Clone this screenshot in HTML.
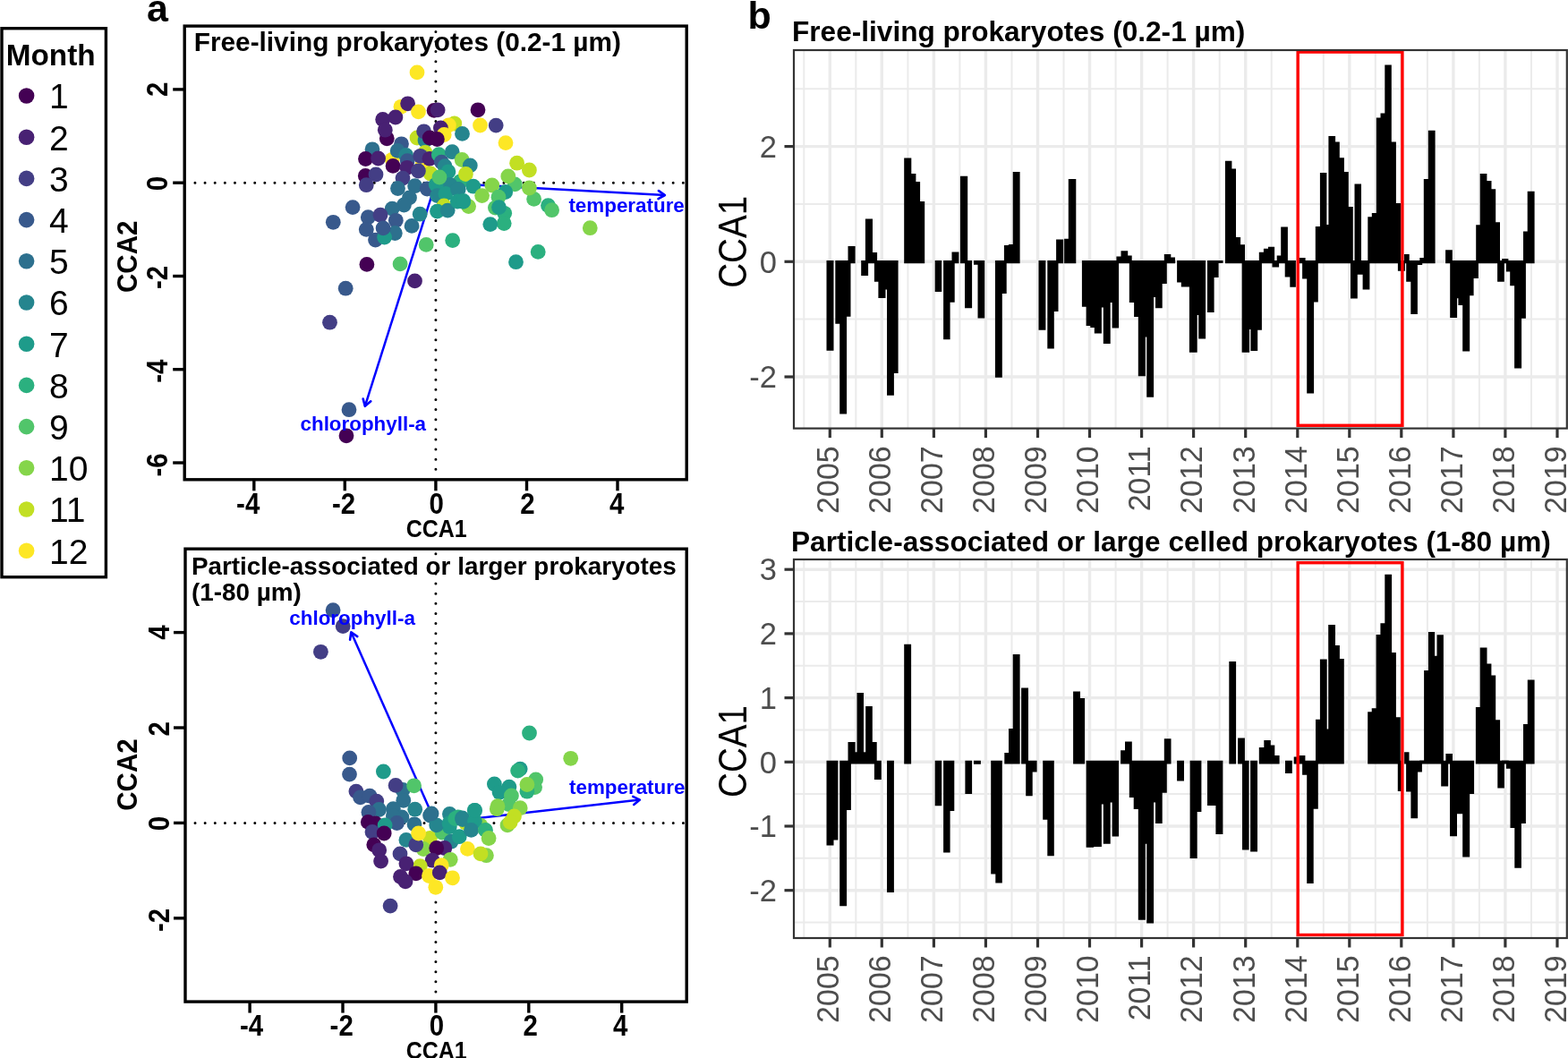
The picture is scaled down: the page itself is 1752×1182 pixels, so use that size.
<!DOCTYPE html>
<html><head><meta charset="utf-8"><title>CCA figure</title>
<style>
html,body{margin:0;padding:0;background:#fff;}
body{width:1752px;height:1182px;overflow:hidden;}
svg{display:block;font-family:'Liberation Sans', Arial, Helvetica, sans-serif;}
.b{font-weight:bold;}
</style></head><body>
<svg width="1752" height="1182" viewBox="0 0 1752 1182">
<rect x="0" y="0" width="1752" height="1182" fill="#fff"/>
<rect x="2.0" y="31.7" width="116.4" height="613.0" fill="none" stroke="#000" stroke-width="3.4"/>
<text x="6.8" y="73.4" class="b" font-size="33.3">Month</text>
<circle cx="29.6" cy="107.0" r="8.8" fill="#440154"/>
<text x="55" y="121.3" font-size="39">1</text>
<circle cx="29.6" cy="153.2" r="8.8" fill="#482173"/>
<text x="55" y="167.5" font-size="39">2</text>
<circle cx="29.6" cy="199.4" r="8.8" fill="#433E85"/>
<text x="55" y="213.7" font-size="39">3</text>
<circle cx="29.6" cy="245.6" r="8.8" fill="#38598C"/>
<text x="55" y="259.9" font-size="39">4</text>
<circle cx="29.6" cy="291.8" r="8.8" fill="#2D708E"/>
<text x="55" y="306.1" font-size="39">5</text>
<circle cx="29.6" cy="338.0" r="8.8" fill="#25858E"/>
<text x="55" y="352.3" font-size="39">6</text>
<circle cx="29.6" cy="384.2" r="8.8" fill="#1E9B8A"/>
<text x="55" y="398.5" font-size="39">7</text>
<circle cx="29.6" cy="430.4" r="8.8" fill="#2BB07F"/>
<text x="55" y="444.7" font-size="39">8</text>
<circle cx="29.6" cy="476.6" r="8.8" fill="#51C56A"/>
<text x="55" y="490.9" font-size="39">9</text>
<circle cx="29.6" cy="522.8" r="8.8" fill="#85D54A"/>
<text x="55" y="537.1" font-size="39">10</text>
<circle cx="29.6" cy="569.0" r="8.8" fill="#C2DF23"/>
<text x="55" y="583.3" font-size="39">11</text>
<circle cx="29.6" cy="615.2" r="8.8" fill="#FDE725"/>
<text x="55" y="629.5" font-size="39">12</text>
<text x="164" y="24" class="b" font-size="43">a</text>
<text x="835.5" y="32" class="b" font-size="43">b</text>
<line x1="217.93" y1="204.2" x2="765.2" y2="204.2" stroke="#000" stroke-width="3" stroke-dasharray="0 11.13" stroke-linecap="round"/>
<line x1="486.9" y1="35.40" x2="486.9" y2="533.8" stroke="#000" stroke-width="3" stroke-dasharray="0 11.11" stroke-linecap="round"/>
<line x1="486.9" y1="204.2" x2="742.9" y2="218.0" stroke="#0000FF" stroke-width="2.5"/>
<polyline points="735.5,222.1 742.9,218.0 735.9,213.1" fill="none" stroke="#0000FF" stroke-width="2.6" stroke-linejoin="round" stroke-linecap="round"/>
<line x1="486.9" y1="204.2" x2="407.8" y2="453.8" stroke="#0000FF" stroke-width="2.5"/>
<polyline points="405.7,445.6 407.8,453.8 414.3,448.3" fill="none" stroke="#0000FF" stroke-width="2.6" stroke-linejoin="round" stroke-linecap="round"/>
<circle cx="466.0" cy="80.9" r="8.4" fill="#FDE725"/>
<circle cx="448.0" cy="119.3" r="8.4" fill="#FDE725"/>
<circle cx="455.6" cy="115.8" r="8.4" fill="#482173"/>
<circle cx="467.5" cy="124.9" r="8.4" fill="#FDE725"/>
<circle cx="485.1" cy="123.4" r="8.4" fill="#440154"/>
<circle cx="489.1" cy="122.9" r="8.4" fill="#482173"/>
<circle cx="534.0" cy="122.8" r="8.4" fill="#440154"/>
<circle cx="554.2" cy="140.1" r="8.4" fill="#433E85"/>
<circle cx="565.0" cy="159.6" r="8.4" fill="#FDE725"/>
<circle cx="427.7" cy="133.5" r="8.4" fill="#482173"/>
<circle cx="441.9" cy="131.0" r="8.4" fill="#482173"/>
<circle cx="432.3" cy="154.8" r="8.4" fill="#440154"/>
<circle cx="430.3" cy="145.2" r="8.4" fill="#482173"/>
<circle cx="536.5" cy="140.0" r="8.4" fill="#FDE725"/>
<circle cx="507.8" cy="138.0" r="8.4" fill="#C2DF23"/>
<circle cx="501.4" cy="139.8" r="8.4" fill="#FDE725"/>
<circle cx="492.4" cy="143.0" r="8.4" fill="#482173"/>
<circle cx="496.2" cy="150.5" r="8.4" fill="#FDE725"/>
<circle cx="516.5" cy="149.4" r="8.4" fill="#25858E"/>
<circle cx="466.0" cy="154.0" r="8.4" fill="#C2DF23"/>
<circle cx="475.0" cy="157.0" r="8.4" fill="#25858E"/>
<circle cx="473.6" cy="146.8" r="8.4" fill="#433E85"/>
<circle cx="480.2" cy="154.0" r="8.4" fill="#440154"/>
<circle cx="488.4" cy="155.5" r="8.4" fill="#440154"/>
<circle cx="438.2" cy="178.3" r="8.4" fill="#FDE725"/>
<circle cx="448.5" cy="160.8" r="8.4" fill="#38598C"/>
<circle cx="416.0" cy="166.8" r="8.4" fill="#2D708E"/>
<circle cx="444.2" cy="168.4" r="8.4" fill="#2D708E"/>
<circle cx="453.7" cy="173.5" r="8.4" fill="#25858E"/>
<circle cx="408.5" cy="177.5" r="8.4" fill="#440154"/>
<circle cx="422.6" cy="177.0" r="8.4" fill="#482173"/>
<circle cx="439.1" cy="185.4" r="8.4" fill="#440154"/>
<circle cx="455.2" cy="179.6" r="8.4" fill="#38598C"/>
<circle cx="454.9" cy="187.3" r="8.4" fill="#482173"/>
<circle cx="472.0" cy="184.2" r="8.4" fill="#FDE725"/>
<circle cx="475.0" cy="170.5" r="8.4" fill="#C2DF23"/>
<circle cx="469.7" cy="174.3" r="8.4" fill="#433E85"/>
<circle cx="480.0" cy="177.3" r="8.4" fill="#482173"/>
<circle cx="490.3" cy="172.7" r="8.4" fill="#2BB07F"/>
<circle cx="505.2" cy="169.7" r="8.4" fill="#25858E"/>
<circle cx="493.3" cy="181.1" r="8.4" fill="#38598C"/>
<circle cx="497.1" cy="185.7" r="8.4" fill="#25858E"/>
<circle cx="500.9" cy="191.8" r="8.4" fill="#1E9B8A"/>
<circle cx="481.0" cy="194.0" r="8.4" fill="#C2DF23"/>
<circle cx="467.4" cy="191.0" r="8.4" fill="#433E85"/>
<circle cx="514.3" cy="202.8" r="8.4" fill="#2BB07F"/>
<circle cx="494.5" cy="208.5" r="8.4" fill="#1E9B8A"/>
<circle cx="502.9" cy="206.5" r="8.4" fill="#25858E"/>
<circle cx="516.2" cy="178.5" r="8.4" fill="#85D54A"/>
<circle cx="525.3" cy="184.9" r="8.4" fill="#25858E"/>
<circle cx="520.4" cy="194.5" r="8.4" fill="#C2DF23"/>
<circle cx="577.6" cy="182.2" r="8.4" fill="#C2DF23"/>
<circle cx="591.4" cy="190.0" r="8.4" fill="#C2DF23"/>
<circle cx="575.3" cy="205.9" r="8.4" fill="#51C56A"/>
<circle cx="567.8" cy="196.9" r="8.4" fill="#85D54A"/>
<circle cx="549.8" cy="207.0" r="8.4" fill="#85D54A"/>
<circle cx="528.8" cy="208.2" r="8.4" fill="#1E9B8A"/>
<circle cx="512.2" cy="211.4" r="8.4" fill="#25858E"/>
<circle cx="596.6" cy="222.4" r="8.4" fill="#51C56A"/>
<circle cx="591.4" cy="210.0" r="8.4" fill="#85D54A"/>
<circle cx="564.7" cy="214.5" r="8.4" fill="#1E9B8A"/>
<circle cx="538.6" cy="218.6" r="8.4" fill="#85D54A"/>
<circle cx="557.0" cy="220.2" r="8.4" fill="#51C56A"/>
<circle cx="523.6" cy="230.6" r="8.4" fill="#85D54A"/>
<circle cx="517.5" cy="225.4" r="8.4" fill="#1E9B8A"/>
<circle cx="553.4" cy="232.1" r="8.4" fill="#51C56A"/>
<circle cx="563.7" cy="238.3" r="8.4" fill="#2BB07F"/>
<circle cx="563.2" cy="249.6" r="8.4" fill="#2BB07F"/>
<circle cx="557.5" cy="231.6" r="8.4" fill="#1E9B8A"/>
<circle cx="547.8" cy="250.6" r="8.4" fill="#1E9B8A"/>
<circle cx="612.5" cy="229.6" r="8.4" fill="#2BB07F"/>
<circle cx="616.6" cy="234.7" r="8.4" fill="#51C56A"/>
<circle cx="659.3" cy="254.7" r="8.4" fill="#85D54A"/>
<circle cx="505.7" cy="268.6" r="8.4" fill="#2BB07F"/>
<circle cx="601.2" cy="281.4" r="8.4" fill="#2BB07F"/>
<circle cx="576.5" cy="292.7" r="8.4" fill="#1E9B8A"/>
<circle cx="408.3" cy="196.5" r="8.4" fill="#440154"/>
<circle cx="420.0" cy="195.0" r="8.4" fill="#433E85"/>
<circle cx="409.3" cy="206.7" r="8.4" fill="#433E85"/>
<circle cx="450.0" cy="199.1" r="8.4" fill="#433E85"/>
<circle cx="444.5" cy="210.5" r="8.4" fill="#2D708E"/>
<circle cx="463.6" cy="207.7" r="8.4" fill="#2D708E"/>
<circle cx="477.3" cy="211.0" r="8.4" fill="#38598C"/>
<circle cx="487.2" cy="206.3" r="8.4" fill="#1E9B8A"/>
<circle cx="488.6" cy="218.6" r="8.4" fill="#25858E"/>
<circle cx="497.9" cy="216.5" r="8.4" fill="#1E9B8A"/>
<circle cx="511.5" cy="211.5" r="8.4" fill="#25858E"/>
<circle cx="457.5" cy="220.9" r="8.4" fill="#2D708E"/>
<circle cx="451.4" cy="229.0" r="8.4" fill="#2D708E"/>
<circle cx="438.2" cy="233.1" r="8.4" fill="#2D708E"/>
<circle cx="394.1" cy="231.6" r="8.4" fill="#38598C"/>
<circle cx="372.3" cy="248.3" r="8.4" fill="#38598C"/>
<circle cx="411.3" cy="242.7" r="8.4" fill="#38598C"/>
<circle cx="425.0" cy="240.2" r="8.4" fill="#433E85"/>
<circle cx="442.3" cy="246.3" r="8.4" fill="#38598C"/>
<circle cx="409.3" cy="256.4" r="8.4" fill="#38598C"/>
<circle cx="419.5" cy="268.1" r="8.4" fill="#38598C"/>
<circle cx="441.3" cy="260.5" r="8.4" fill="#2D708E"/>
<circle cx="429.6" cy="265.1" r="8.4" fill="#1E9B8A"/>
<circle cx="428.1" cy="254.9" r="8.4" fill="#38598C"/>
<circle cx="460.1" cy="252.4" r="8.4" fill="#2D708E"/>
<circle cx="469.2" cy="239.2" r="8.4" fill="#25858E"/>
<circle cx="496.1" cy="230.0" r="8.4" fill="#C2DF23"/>
<circle cx="488.5" cy="236.1" r="8.4" fill="#1E9B8A"/>
<circle cx="500.2" cy="235.1" r="8.4" fill="#25858E"/>
<circle cx="511.3" cy="225.0" r="8.4" fill="#1E9B8A"/>
<circle cx="517.7" cy="224.5" r="8.4" fill="#1E9B8A"/>
<circle cx="491.0" cy="198.0" r="8.4" fill="#51C56A"/>
<circle cx="476.2" cy="273.4" r="8.4" fill="#51C56A"/>
<circle cx="409.9" cy="295.4" r="8.4" fill="#440154"/>
<circle cx="447.1" cy="294.9" r="8.4" fill="#51C56A"/>
<circle cx="463.5" cy="313.9" r="8.4" fill="#482173"/>
<circle cx="386.2" cy="322.2" r="8.4" fill="#38598C"/>
<circle cx="368.5" cy="360.2" r="8.4" fill="#433E85"/>
<circle cx="390.0" cy="457.7" r="8.4" fill="#38598C"/>
<circle cx="387.0" cy="486.8" r="8.4" fill="#440154"/>
<text x="635.4" y="237.4" class="b" font-size="22.4" fill="#0000FF">temperature</text>
<text x="335.5" y="480.5" class="b" font-size="22.4" fill="#0000FF">chlorophyll-a</text>
<rect x="206.2" y="29.1" width="561.0" height="506.69999999999993" fill="none" stroke="#000" stroke-width="3.4"/>
<line x1="193.2" y1="99.9" x2="206.2" y2="99.9" stroke="#000" stroke-width="3.4"/>
<line x1="193.2" y1="204.2" x2="206.2" y2="204.2" stroke="#000" stroke-width="3.4"/>
<line x1="193.2" y1="308.5" x2="206.2" y2="308.5" stroke="#000" stroke-width="3.4"/>
<line x1="193.2" y1="412.7" x2="206.2" y2="412.7" stroke="#000" stroke-width="3.4"/>
<line x1="193.2" y1="517.0" x2="206.2" y2="517.0" stroke="#000" stroke-width="3.4"/>
<text transform="translate(187.2,99.8) rotate(-90) scale(0.9,1)" text-anchor="middle" class="b" font-size="32.7">2</text>
<text transform="translate(187.2,205.2) rotate(-90) scale(0.9,1)" text-anchor="middle" class="b" font-size="32.7">0</text>
<text transform="translate(187.2,310.0) rotate(-90) scale(0.9,1)" text-anchor="middle" class="b" font-size="32.7">-2</text>
<text transform="translate(187.2,414.6) rotate(-90) scale(0.9,1)" text-anchor="middle" class="b" font-size="32.7">-4</text>
<text transform="translate(187.2,519.5) rotate(-90) scale(0.9,1)" text-anchor="middle" class="b" font-size="32.7">-6</text>
<line x1="283.8" y1="535.8" x2="283.8" y2="548.3" stroke="#000" stroke-width="3.4"/>
<line x1="385.3" y1="535.8" x2="385.3" y2="548.3" stroke="#000" stroke-width="3.4"/>
<line x1="486.9" y1="535.8" x2="486.9" y2="548.3" stroke="#000" stroke-width="3.4"/>
<line x1="588.5" y1="535.8" x2="588.5" y2="548.3" stroke="#000" stroke-width="3.4"/>
<line x1="690.0" y1="535.8" x2="690.0" y2="548.3" stroke="#000" stroke-width="3.4"/>
<text transform="translate(277.2,573.9) scale(0.9,1)" text-anchor="middle" class="b" font-size="32.7">-4</text>
<text transform="translate(384.0,573.9) scale(0.9,1)" text-anchor="middle" class="b" font-size="32.7">-2</text>
<text transform="translate(487.7,573.9) scale(0.9,1)" text-anchor="middle" class="b" font-size="32.7">0</text>
<text transform="translate(589.5,573.9) scale(0.9,1)" text-anchor="middle" class="b" font-size="32.7">2</text>
<text transform="translate(689.1,573.9) scale(0.9,1)" text-anchor="middle" class="b" font-size="32.7">4</text>
<text transform="translate(487.7,599.7) scale(0.9,1)" text-anchor="middle" class="b" font-size="27.8">CCA1</text>
<text transform="translate(153.1,286.8) rotate(-90) scale(0.955,1)" text-anchor="middle" class="b" font-size="31">CCA2</text>
<text x="216.8" y="57.2" class="b" font-size="29.77">Free-living prokaryotes (0.2-1 µm)</text>
<line x1="218.03" y1="919.4" x2="765.2" y2="919.4" stroke="#000" stroke-width="3" stroke-dasharray="0 11.13" stroke-linecap="round"/>
<line x1="486.9" y1="618.70" x2="486.9" y2="1117.1" stroke="#000" stroke-width="3" stroke-dasharray="0 11.12" stroke-linecap="round"/>
<line x1="486.9" y1="919.4" x2="714.9" y2="893.6" stroke="#0000FF" stroke-width="2.5"/>
<polyline points="708.2,898.9 714.9,893.6 707.2,889.9" fill="none" stroke="#0000FF" stroke-width="2.6" stroke-linejoin="round" stroke-linecap="round"/>
<line x1="486.9" y1="919.4" x2="392.3" y2="706.3" stroke="#0000FF" stroke-width="2.5"/>
<polyline points="399.3,711.1 392.3,706.3 391.1,714.7" fill="none" stroke="#0000FF" stroke-width="2.6" stroke-linejoin="round" stroke-linecap="round"/>
<circle cx="372.1" cy="681.7" r="8.4" fill="#38598C"/>
<circle cx="383.2" cy="699.6" r="8.4" fill="#433E85"/>
<circle cx="358.4" cy="728.3" r="8.4" fill="#433E85"/>
<circle cx="390.7" cy="846.9" r="8.4" fill="#38598C"/>
<circle cx="390.5" cy="865.1" r="8.4" fill="#38598C"/>
<circle cx="428.4" cy="862.0" r="8.4" fill="#1E9B8A"/>
<circle cx="450.0" cy="882.5" r="8.4" fill="#2D708E"/>
<circle cx="442.1" cy="877.4" r="8.4" fill="#433E85"/>
<circle cx="462.6" cy="877.8" r="8.4" fill="#51C56A"/>
<circle cx="450.8" cy="894.3" r="8.4" fill="#2D708E"/>
<circle cx="397.9" cy="884.1" r="8.4" fill="#433E85"/>
<circle cx="402.6" cy="890.9" r="8.4" fill="#38598C"/>
<circle cx="413.1" cy="889.2" r="8.4" fill="#38598C"/>
<circle cx="420.8" cy="895.1" r="8.4" fill="#433E85"/>
<circle cx="423.5" cy="904.5" r="8.4" fill="#2D708E"/>
<circle cx="411.9" cy="907.4" r="8.4" fill="#38598C"/>
<circle cx="439.4" cy="903.6" r="8.4" fill="#2D708E"/>
<circle cx="463.7" cy="904.2" r="8.4" fill="#25858E"/>
<circle cx="480.6" cy="911.0" r="8.4" fill="#2D708E"/>
<circle cx="448.9" cy="912.9" r="8.4" fill="#2D708E"/>
<circle cx="439.4" cy="912.0" r="8.4" fill="#2D708E"/>
<circle cx="443.5" cy="919.5" r="8.4" fill="#38598C"/>
<circle cx="463.0" cy="920.8" r="8.4" fill="#2D708E"/>
<circle cx="411.3" cy="918.4" r="8.4" fill="#440154"/>
<circle cx="419.5" cy="920.0" r="8.4" fill="#440154"/>
<circle cx="430.1" cy="922.0" r="8.4" fill="#1E9B8A"/>
<circle cx="416.0" cy="929.5" r="8.4" fill="#433E85"/>
<circle cx="429.2" cy="931.0" r="8.4" fill="#440154"/>
<circle cx="417.8" cy="943.8" r="8.4" fill="#440154"/>
<circle cx="423.7" cy="949.8" r="8.4" fill="#482173"/>
<circle cx="425.6" cy="962.1" r="8.4" fill="#482173"/>
<circle cx="453.9" cy="938.4" r="8.4" fill="#25858E"/>
<circle cx="480.4" cy="936.5" r="8.4" fill="#C2DF23"/>
<circle cx="473.1" cy="948.5" r="8.4" fill="#85D54A"/>
<circle cx="464.8" cy="943.8" r="8.4" fill="#433E85"/>
<circle cx="467.6" cy="931.0" r="8.4" fill="#FDE725"/>
<circle cx="447.0" cy="953.9" r="8.4" fill="#433E85"/>
<circle cx="494.1" cy="930.1" r="8.4" fill="#51C56A"/>
<circle cx="502.3" cy="923.7" r="8.4" fill="#1E9B8A"/>
<circle cx="487.7" cy="921.9" r="8.4" fill="#25858E"/>
<circle cx="504.1" cy="940.2" r="8.4" fill="#25858E"/>
<circle cx="513.2" cy="934.7" r="8.4" fill="#1E9B8A"/>
<circle cx="496.8" cy="947.5" r="8.4" fill="#482173"/>
<circle cx="487.7" cy="947.5" r="8.4" fill="#440154"/>
<circle cx="502.4" cy="909.5" r="8.4" fill="#25858E"/>
<circle cx="502.0" cy="919.7" r="8.4" fill="#1E9B8A"/>
<circle cx="508.7" cy="914.6" r="8.4" fill="#2BB07F"/>
<circle cx="511.9" cy="913.0" r="8.4" fill="#2BB07F"/>
<circle cx="516.5" cy="914.0" r="8.4" fill="#25858E"/>
<circle cx="520.5" cy="919.2" r="8.4" fill="#C2DF23"/>
<circle cx="516.9" cy="915.5" r="8.4" fill="#25858E"/>
<circle cx="530.6" cy="905.5" r="8.4" fill="#1E9B8A"/>
<circle cx="536.9" cy="922.2" r="8.4" fill="#85D54A"/>
<circle cx="530.4" cy="917.5" r="8.4" fill="#1E9B8A"/>
<circle cx="526.5" cy="927.4" r="8.4" fill="#25858E"/>
<circle cx="542.5" cy="927.4" r="8.4" fill="#2BB07F"/>
<circle cx="546.1" cy="936.5" r="8.4" fill="#85D54A"/>
<circle cx="555.3" cy="903.7" r="8.4" fill="#85D54A"/>
<circle cx="522.4" cy="948.4" r="8.4" fill="#FDE725"/>
<circle cx="543.4" cy="955.7" r="8.4" fill="#85D54A"/>
<circle cx="537.0" cy="953.9" r="8.4" fill="#C2DF23"/>
<circle cx="503.2" cy="960.3" r="8.4" fill="#85D54A"/>
<circle cx="483.1" cy="961.2" r="8.4" fill="#482173"/>
<circle cx="493.2" cy="966.7" r="8.4" fill="#FDE725"/>
<circle cx="469.4" cy="967.6" r="8.4" fill="#C2DF23"/>
<circle cx="453.9" cy="964.8" r="8.4" fill="#482173"/>
<circle cx="464.8" cy="975.8" r="8.4" fill="#440154"/>
<circle cx="447.5" cy="979.5" r="8.4" fill="#482173"/>
<circle cx="453.0" cy="984.9" r="8.4" fill="#482173"/>
<circle cx="479.5" cy="978.5" r="8.4" fill="#FDE725"/>
<circle cx="491.3" cy="974.9" r="8.4" fill="#482173"/>
<circle cx="505.5" cy="980.8" r="8.4" fill="#FDE725"/>
<circle cx="486.8" cy="991.3" r="8.4" fill="#FDE725"/>
<circle cx="436.1" cy="1012.1" r="8.4" fill="#433E85"/>
<circle cx="591.5" cy="819.0" r="8.4" fill="#2BB07F"/>
<circle cx="637.7" cy="847.3" r="8.4" fill="#85D54A"/>
<circle cx="581.2" cy="859.1" r="8.4" fill="#1E9B8A"/>
<circle cx="578.6" cy="861.1" r="8.4" fill="#2BB07F"/>
<circle cx="552.4" cy="876.0" r="8.4" fill="#1E9B8A"/>
<circle cx="568.9" cy="879.1" r="8.4" fill="#1E9B8A"/>
<circle cx="558.1" cy="885.3" r="8.4" fill="#1E9B8A"/>
<circle cx="598.7" cy="870.9" r="8.4" fill="#51C56A"/>
<circle cx="597.6" cy="879.6" r="8.4" fill="#51C56A"/>
<circle cx="588.9" cy="884.2" r="8.4" fill="#2BB07F"/>
<circle cx="588.9" cy="876.5" r="8.4" fill="#85D54A"/>
<circle cx="571.4" cy="888.9" r="8.4" fill="#51C56A"/>
<circle cx="568.4" cy="898.6" r="8.4" fill="#51C56A"/>
<circle cx="556.0" cy="900.7" r="8.4" fill="#85D54A"/>
<circle cx="581.2" cy="902.7" r="8.4" fill="#85D54A"/>
<circle cx="574.5" cy="912.0" r="8.4" fill="#C2DF23"/>
<circle cx="567.0" cy="921.9" r="8.4" fill="#85D54A"/>
<circle cx="570.2" cy="918.6" r="8.4" fill="#C2DF23"/>
<circle cx="530.3" cy="905.3" r="8.4" fill="#1E9B8A"/>
<circle cx="482.1" cy="908.9" r="8.4" fill="#2D708E"/>
<text x="636.0" y="887.2" class="b" font-size="22.4" fill="#0000FF">temperature</text>
<text x="323.3" y="697.6" class="b" font-size="22.4" fill="#0000FF">chlorophyll-a</text>
<rect x="207.0" y="613.2" width="560.2" height="505.89999999999986" fill="none" stroke="#000" stroke-width="3.4"/>
<line x1="194.0" y1="706.6" x2="207.0" y2="706.6" stroke="#000" stroke-width="3.4"/>
<line x1="194.0" y1="813.0" x2="207.0" y2="813.0" stroke="#000" stroke-width="3.4"/>
<line x1="194.0" y1="919.4" x2="207.0" y2="919.4" stroke="#000" stroke-width="3.4"/>
<line x1="194.0" y1="1025.8" x2="207.0" y2="1025.8" stroke="#000" stroke-width="3.4"/>
<text transform="translate(189.3,706.6) rotate(-90) scale(0.9,1)" text-anchor="middle" class="b" font-size="32.7">4</text>
<text transform="translate(189.3,814.4) rotate(-90) scale(0.9,1)" text-anchor="middle" class="b" font-size="32.7">2</text>
<text transform="translate(189.3,920.0) rotate(-90) scale(0.9,1)" text-anchor="middle" class="b" font-size="32.7">0</text>
<text transform="translate(189.3,1028.0) rotate(-90) scale(0.9,1)" text-anchor="middle" class="b" font-size="32.7">-2</text>
<line x1="279.1" y1="1119.1" x2="279.1" y2="1131.6" stroke="#000" stroke-width="3.4"/>
<line x1="383.0" y1="1119.1" x2="383.0" y2="1131.6" stroke="#000" stroke-width="3.4"/>
<line x1="486.9" y1="1119.1" x2="486.9" y2="1131.6" stroke="#000" stroke-width="3.4"/>
<line x1="590.8" y1="1119.1" x2="590.8" y2="1131.6" stroke="#000" stroke-width="3.4"/>
<line x1="694.7" y1="1119.1" x2="694.7" y2="1131.6" stroke="#000" stroke-width="3.4"/>
<text transform="translate(281.1,1156.7) scale(0.9,1)" text-anchor="middle" class="b" font-size="32.7">-4</text>
<text transform="translate(381.7,1156.7) scale(0.9,1)" text-anchor="middle" class="b" font-size="32.7">-2</text>
<text transform="translate(487.9,1156.7) scale(0.9,1)" text-anchor="middle" class="b" font-size="32.7">0</text>
<text transform="translate(592.7,1156.7) scale(0.9,1)" text-anchor="middle" class="b" font-size="32.7">2</text>
<text transform="translate(693.2,1156.7) scale(0.9,1)" text-anchor="middle" class="b" font-size="32.7">4</text>
<text transform="translate(487.7,1183.3) scale(0.9,1)" text-anchor="middle" class="b" font-size="27.8">CCA1</text>
<text transform="translate(153.1,865.5) rotate(-90) scale(0.955,1)" text-anchor="middle" class="b" font-size="31">CCA2</text>
<text x="213.9" y="642.0" class="b" font-size="27.86">Particle-associated or larger prokaryotes</text>
<text x="213.9" y="670.8" class="b" font-size="27.86">(1-80 µm)</text>
<line x1="898.3" y1="56.0" x2="898.3" y2="478.6" stroke="#EBEBEB" stroke-width="2.0"/>
<line x1="956.3" y1="56.0" x2="956.3" y2="478.6" stroke="#EBEBEB" stroke-width="2.0"/>
<line x1="1014.4" y1="56.0" x2="1014.4" y2="478.6" stroke="#EBEBEB" stroke-width="2.0"/>
<line x1="1072.4" y1="56.0" x2="1072.4" y2="478.6" stroke="#EBEBEB" stroke-width="2.0"/>
<line x1="1130.5" y1="56.0" x2="1130.5" y2="478.6" stroke="#EBEBEB" stroke-width="2.0"/>
<line x1="1188.5" y1="56.0" x2="1188.5" y2="478.6" stroke="#EBEBEB" stroke-width="2.0"/>
<line x1="1246.6" y1="56.0" x2="1246.6" y2="478.6" stroke="#EBEBEB" stroke-width="2.0"/>
<line x1="1304.6" y1="56.0" x2="1304.6" y2="478.6" stroke="#EBEBEB" stroke-width="2.0"/>
<line x1="1362.7" y1="56.0" x2="1362.7" y2="478.6" stroke="#EBEBEB" stroke-width="2.0"/>
<line x1="1420.7" y1="56.0" x2="1420.7" y2="478.6" stroke="#EBEBEB" stroke-width="2.0"/>
<line x1="1478.8" y1="56.0" x2="1478.8" y2="478.6" stroke="#EBEBEB" stroke-width="2.0"/>
<line x1="1536.8" y1="56.0" x2="1536.8" y2="478.6" stroke="#EBEBEB" stroke-width="2.0"/>
<line x1="1594.9" y1="56.0" x2="1594.9" y2="478.6" stroke="#EBEBEB" stroke-width="2.0"/>
<line x1="1652.9" y1="56.0" x2="1652.9" y2="478.6" stroke="#EBEBEB" stroke-width="2.0"/>
<line x1="1711.0" y1="56.0" x2="1711.0" y2="478.6" stroke="#EBEBEB" stroke-width="2.0"/>
<line x1="887" y1="356.6" x2="1750.8" y2="356.6" stroke="#EBEBEB" stroke-width="2.0"/>
<line x1="887" y1="228.0" x2="1750.8" y2="228.0" stroke="#EBEBEB" stroke-width="2.0"/>
<line x1="887" y1="99.3" x2="1750.8" y2="99.3" stroke="#EBEBEB" stroke-width="2.0"/>
<line x1="927.3" y1="56.0" x2="927.3" y2="478.6" stroke="#EBEBEB" stroke-width="3.4"/>
<line x1="985.3" y1="56.0" x2="985.3" y2="478.6" stroke="#EBEBEB" stroke-width="3.4"/>
<line x1="1043.4" y1="56.0" x2="1043.4" y2="478.6" stroke="#EBEBEB" stroke-width="3.4"/>
<line x1="1101.4" y1="56.0" x2="1101.4" y2="478.6" stroke="#EBEBEB" stroke-width="3.4"/>
<line x1="1159.5" y1="56.0" x2="1159.5" y2="478.6" stroke="#EBEBEB" stroke-width="3.4"/>
<line x1="1217.5" y1="56.0" x2="1217.5" y2="478.6" stroke="#EBEBEB" stroke-width="3.4"/>
<line x1="1275.6" y1="56.0" x2="1275.6" y2="478.6" stroke="#EBEBEB" stroke-width="3.4"/>
<line x1="1333.6" y1="56.0" x2="1333.6" y2="478.6" stroke="#EBEBEB" stroke-width="3.4"/>
<line x1="1391.7" y1="56.0" x2="1391.7" y2="478.6" stroke="#EBEBEB" stroke-width="3.4"/>
<line x1="1449.8" y1="56.0" x2="1449.8" y2="478.6" stroke="#EBEBEB" stroke-width="3.4"/>
<line x1="1507.8" y1="56.0" x2="1507.8" y2="478.6" stroke="#EBEBEB" stroke-width="3.4"/>
<line x1="1565.8" y1="56.0" x2="1565.8" y2="478.6" stroke="#EBEBEB" stroke-width="3.4"/>
<line x1="1623.9" y1="56.0" x2="1623.9" y2="478.6" stroke="#EBEBEB" stroke-width="3.4"/>
<line x1="1681.9" y1="56.0" x2="1681.9" y2="478.6" stroke="#EBEBEB" stroke-width="3.4"/>
<line x1="1740.0" y1="56.0" x2="1740.0" y2="478.6" stroke="#EBEBEB" stroke-width="3.4"/>
<line x1="887" y1="421.0" x2="1750.8" y2="421.0" stroke="#EBEBEB" stroke-width="3.4"/>
<line x1="887" y1="292.3" x2="1750.8" y2="292.3" stroke="#EBEBEB" stroke-width="3.4"/>
<line x1="887" y1="163.6" x2="1750.8" y2="163.6" stroke="#EBEBEB" stroke-width="3.4"/>
<path d="M947.5 274.9H955.6V294.2H947.5ZM966.9 244.4H975.0V294.2H966.9ZM975.0 282.1H980.1V294.2H975.0ZM1010.2 176.6H1018.3V294.2H1010.2ZM1018.3 193.9H1023.4V294.2H1018.3ZM1023.4 202.9H1028.1V294.2H1023.4ZM1028.1 225.0H1033.2V294.2H1028.1ZM1063.5 281.5H1071.4V294.2H1063.5ZM1072.9 196.7H1081.2V294.2H1072.9ZM1121.9 274.0H1126.9V294.2H1121.9ZM1126.9 273.0H1131.7V294.2H1126.9ZM1131.7 192.0H1139.6V294.2H1131.7ZM1180.1 267.4H1188.2V294.2H1180.1ZM1189.1 266.8H1193.8V294.2H1189.1ZM1193.8 200.1H1202.3V294.2H1193.8ZM1247.4 286.4H1252.5V294.2H1247.4ZM1252.5 280.3H1260.2V294.2H1252.5ZM1260.2 285.4H1264.7V294.2H1260.2ZM1300.8 284.0H1308.3V294.2H1300.8ZM1308.3 287.5H1313.0V294.2H1308.3ZM1368.9 179.8H1376.4V294.2H1368.9ZM1376.4 188.4H1381.0V294.2H1376.4ZM1381.0 265.1H1386.1V294.2H1381.0ZM1386.1 273.2H1391.0V294.2H1386.1ZM1406.8 281.8H1411.9V294.2H1406.8ZM1411.9 277.7H1417.0V294.2H1411.9ZM1417.0 275.7H1424.1V294.2H1417.0ZM1426.7 285.4H1431.2V294.2H1426.7ZM1431.2 253.5H1438.9V294.2H1431.2ZM1451.5 288.1H1458.6V294.2H1451.5ZM1469.8 252.9H1474.9V294.2H1469.8ZM1474.9 193.0H1482.4V294.2H1474.9ZM1482.4 250.9H1484.4V294.2H1482.4ZM1484.4 152.0H1492.1V294.2H1484.4ZM1492.1 158.5H1496.8V294.2H1492.1ZM1496.8 176.2H1501.9V294.2H1496.8ZM1501.9 192.0H1506.8V294.2H1501.9ZM1506.8 231.0H1511.8V294.2H1506.8ZM1513.5 205.6H1521.0V294.2H1513.5ZM1528.3 242.2H1532.8V294.2H1528.3ZM1532.8 238.1H1537.8V294.2H1532.8ZM1537.8 131.5H1542.5V294.2H1537.8ZM1542.5 126.4H1547.3V294.2H1542.5ZM1547.3 72.6H1554.8V294.2H1547.3ZM1554.8 158.5H1559.9V294.2H1554.8ZM1559.9 226.9H1565.0V294.2H1559.9ZM1569.0 284.0H1574.7V294.2H1569.0ZM1586.3 288.0H1590.8V294.2H1586.3ZM1590.8 200.1H1595.8V294.2H1590.8ZM1595.8 145.7H1603.6V294.2H1595.8ZM1615.1 279.3H1622.8V294.2H1615.1ZM1649.2 251.3H1653.7V294.2H1649.2ZM1653.7 194.0H1661.4V294.2H1653.7ZM1661.4 202.1H1666.5V294.2H1661.4ZM1666.5 211.3H1671.2V294.2H1666.5ZM1671.2 248.2H1676.0V294.2H1671.2ZM1678.1 289.0H1685.4V294.2H1678.1ZM1702.0 258.6H1706.7V294.2H1702.0ZM1706.7 213.7H1714.6V294.2H1706.7ZM923.5 291.0H931.5V391.8H923.5ZM933.3 291.0H938.2V361.7H933.3ZM938.2 291.0H946.1V462.4H938.2ZM946.1 291.0H950.5V353.8H946.1ZM962.2 291.0H970.1V308.0H962.2ZM976.9 291.0H981.4V314.8H976.9ZM981.4 291.0H989.5V333.0H981.4ZM989.5 291.0H991.0V323.6H989.5ZM991.0 291.0H998.9V441.7H991.0ZM998.9 291.0H1003.6V416.9H998.9ZM1044.7 291.0H1052.2V326.1H1044.7ZM1054.1 291.0H1061.6V379.2H1054.1ZM1061.6 291.0H1066.7V337.7H1061.6ZM1078.0 291.0H1086.1V344.3H1078.0ZM1088.0 291.0H1092.5V295.7H1088.0ZM1092.5 291.0H1100.2V355.6H1092.5ZM1111.9 291.0H1119.8V421.7H1111.9ZM1119.8 291.0H1124.7V328.0H1119.8ZM1160.5 291.0H1168.4V368.8H1160.5ZM1170.3 291.0H1177.8V389.5H1170.3ZM1177.8 291.0H1182.5V348.1H1177.8ZM1208.9 291.0H1213.6V342.8H1208.9ZM1213.6 291.0H1218.3V364.1H1213.6ZM1218.3 291.0H1222.8V366.0H1218.3ZM1222.8 291.0H1230.9V372.6H1222.8ZM1230.9 291.0H1232.8V343.4H1230.9ZM1232.8 291.0H1240.7V383.9H1232.8ZM1240.7 291.0H1242.6V338.1H1240.7ZM1242.6 291.0H1250.1V366.6H1242.6ZM1261.8 291.0H1267.1V338.1H1261.8ZM1267.1 291.0H1271.8V354.1H1267.1ZM1271.8 291.0H1279.9V420.2H1271.8ZM1279.9 291.0H1281.2V376.4H1279.9ZM1281.2 291.0H1289.1V443.8H1281.2ZM1289.1 291.0H1291.0V332.1H1289.1ZM1291.0 291.0H1298.7V344.3H1291.0ZM1298.7 291.0H1303.8V317.0H1298.7ZM1303.8 291.0H1313.2V294.0H1303.8ZM1315.1 291.0H1319.8V315.5H1315.1ZM1319.8 291.0H1328.9V320.4H1319.8ZM1328.9 291.0H1337.7V393.7H1328.9ZM1337.7 291.0H1339.2V351.9H1337.7ZM1339.2 291.0H1347.1V378.6H1339.2ZM1349.0 291.0H1356.6V349.0H1349.0ZM1356.6 291.0H1361.6V309.9H1356.6ZM1361.6 291.0H1366.5V294.0H1361.6ZM1387.6 291.0H1396.1V393.7H1387.6ZM1396.1 291.0H1397.4V367.9H1396.1ZM1397.4 291.0H1405.2V392.0H1397.4ZM1405.2 291.0H1409.9V368.8H1405.2ZM1421.5 291.0H1429.1V298.6H1421.5ZM1435.7 291.0H1441.3V309.5H1435.7ZM1441.3 291.0H1447.9V320.8H1441.3ZM1455.1 291.0H1460.2V311.4H1455.1ZM1460.2 291.0H1468.1V439.5H1460.2ZM1468.1 291.0H1472.8V337.4H1468.1ZM1509.0 291.0H1516.8V333.6H1509.0ZM1516.8 291.0H1522.6V306.7H1516.8ZM1522.6 291.0H1530.4V323.6H1522.6ZM1561.9 291.0H1569.9V302.7H1561.9ZM1571.2 291.0H1576.3V314.7H1571.2ZM1576.3 291.0H1583.9V350.9H1576.3ZM1583.9 291.0H1589.2V295.9H1583.9ZM1620.2 291.0H1628.1V354.9H1620.2ZM1628.1 291.0H1629.4V333.2H1628.1ZM1629.4 291.0H1634.2V340.9H1629.4ZM1634.2 291.0H1642.2V392.4H1634.2ZM1642.2 291.0H1646.6V330.3H1642.2ZM1646.6 291.0H1651.9V311.0H1646.6ZM1673.1 291.0H1680.8V314.7H1673.1ZM1682.9 291.0H1687.2V303.5H1682.9ZM1687.2 291.0H1692.1V319.2H1687.2ZM1692.1 291.0H1700.1V411.6H1692.1ZM1700.1 291.0H1704.9V355.7H1700.1Z" fill="#000"/>
<rect x="1450.2" y="58.1" width="116.70000000000005" height="417.2" fill="none" stroke="#FF0000" stroke-width="3.4"/>
<rect x="887" y="56.0" width="863.8" height="422.6" fill="none" stroke="#333333" stroke-width="2.2"/>
<line x1="876.5" y1="421.0" x2="887" y2="421.0" stroke="#333333" stroke-width="3.2"/>
<text x="868" y="433.2" text-anchor="end" font-size="34.5" fill="#4D4D4D">-2</text>
<line x1="876.5" y1="292.3" x2="887" y2="292.3" stroke="#333333" stroke-width="3.2"/>
<text x="868" y="304.5" text-anchor="end" font-size="34.5" fill="#4D4D4D">0</text>
<line x1="876.5" y1="163.6" x2="887" y2="163.6" stroke="#333333" stroke-width="3.2"/>
<text x="868" y="175.8" text-anchor="end" font-size="34.5" fill="#4D4D4D">2</text>
<line x1="927.3" y1="478.6" x2="927.3" y2="489.1" stroke="#333333" stroke-width="3.2"/>
<text transform="translate(937.1,498.3) rotate(-90) scale(0.96,1)" text-anchor="end" font-size="35.4" fill="#4D4D4D">2005</text>
<line x1="985.3" y1="478.6" x2="985.3" y2="489.1" stroke="#333333" stroke-width="3.2"/>
<text transform="translate(995.1,498.3) rotate(-90) scale(0.96,1)" text-anchor="end" font-size="35.4" fill="#4D4D4D">2006</text>
<line x1="1043.4" y1="478.6" x2="1043.4" y2="489.1" stroke="#333333" stroke-width="3.2"/>
<text transform="translate(1053.2,498.3) rotate(-90) scale(0.96,1)" text-anchor="end" font-size="35.4" fill="#4D4D4D">2007</text>
<line x1="1101.4" y1="478.6" x2="1101.4" y2="489.1" stroke="#333333" stroke-width="3.2"/>
<text transform="translate(1111.2,498.3) rotate(-90) scale(0.96,1)" text-anchor="end" font-size="35.4" fill="#4D4D4D">2008</text>
<line x1="1159.5" y1="478.6" x2="1159.5" y2="489.1" stroke="#333333" stroke-width="3.2"/>
<text transform="translate(1169.3,498.3) rotate(-90) scale(0.96,1)" text-anchor="end" font-size="35.4" fill="#4D4D4D">2009</text>
<line x1="1217.5" y1="478.6" x2="1217.5" y2="489.1" stroke="#333333" stroke-width="3.2"/>
<text transform="translate(1227.3,498.3) rotate(-90) scale(0.96,1)" text-anchor="end" font-size="35.4" fill="#4D4D4D">2010</text>
<line x1="1275.6" y1="478.6" x2="1275.6" y2="489.1" stroke="#333333" stroke-width="3.2"/>
<text transform="translate(1285.4,498.3) rotate(-90) scale(0.96,1)" text-anchor="end" font-size="35.4" fill="#4D4D4D">2011</text>
<line x1="1333.6" y1="478.6" x2="1333.6" y2="489.1" stroke="#333333" stroke-width="3.2"/>
<text transform="translate(1343.4,498.3) rotate(-90) scale(0.96,1)" text-anchor="end" font-size="35.4" fill="#4D4D4D">2012</text>
<line x1="1391.7" y1="478.6" x2="1391.7" y2="489.1" stroke="#333333" stroke-width="3.2"/>
<text transform="translate(1401.5,498.3) rotate(-90) scale(0.96,1)" text-anchor="end" font-size="35.4" fill="#4D4D4D">2013</text>
<line x1="1449.8" y1="478.6" x2="1449.8" y2="489.1" stroke="#333333" stroke-width="3.2"/>
<text transform="translate(1459.5,498.3) rotate(-90) scale(0.96,1)" text-anchor="end" font-size="35.4" fill="#4D4D4D">2014</text>
<line x1="1507.8" y1="478.6" x2="1507.8" y2="489.1" stroke="#333333" stroke-width="3.2"/>
<text transform="translate(1517.6,498.3) rotate(-90) scale(0.96,1)" text-anchor="end" font-size="35.4" fill="#4D4D4D">2015</text>
<line x1="1565.8" y1="478.6" x2="1565.8" y2="489.1" stroke="#333333" stroke-width="3.2"/>
<text transform="translate(1575.6,498.3) rotate(-90) scale(0.96,1)" text-anchor="end" font-size="35.4" fill="#4D4D4D">2016</text>
<line x1="1623.9" y1="478.6" x2="1623.9" y2="489.1" stroke="#333333" stroke-width="3.2"/>
<text transform="translate(1633.7,498.3) rotate(-90) scale(0.96,1)" text-anchor="end" font-size="35.4" fill="#4D4D4D">2017</text>
<line x1="1681.9" y1="478.6" x2="1681.9" y2="489.1" stroke="#333333" stroke-width="3.2"/>
<text transform="translate(1691.7,498.3) rotate(-90) scale(0.96,1)" text-anchor="end" font-size="35.4" fill="#4D4D4D">2018</text>
<line x1="1740.0" y1="478.6" x2="1740.0" y2="489.1" stroke="#333333" stroke-width="3.2"/>
<text transform="translate(1749.8,498.3) rotate(-90) scale(0.96,1)" text-anchor="end" font-size="35.4" fill="#4D4D4D">2019</text>
<text transform="translate(833.5,270.35) rotate(-90) scale(0.865,1)" text-anchor="middle" font-size="44.6">CCA1</text>
<text x="885" y="45.6" class="b" font-size="31.6">Free-living prokaryotes (0.2-1 µm)</text>
<line x1="898.3" y1="625.0" x2="898.3" y2="1048.0" stroke="#EBEBEB" stroke-width="2.0"/>
<line x1="956.3" y1="625.0" x2="956.3" y2="1048.0" stroke="#EBEBEB" stroke-width="2.0"/>
<line x1="1014.4" y1="625.0" x2="1014.4" y2="1048.0" stroke="#EBEBEB" stroke-width="2.0"/>
<line x1="1072.4" y1="625.0" x2="1072.4" y2="1048.0" stroke="#EBEBEB" stroke-width="2.0"/>
<line x1="1130.5" y1="625.0" x2="1130.5" y2="1048.0" stroke="#EBEBEB" stroke-width="2.0"/>
<line x1="1188.5" y1="625.0" x2="1188.5" y2="1048.0" stroke="#EBEBEB" stroke-width="2.0"/>
<line x1="1246.6" y1="625.0" x2="1246.6" y2="1048.0" stroke="#EBEBEB" stroke-width="2.0"/>
<line x1="1304.6" y1="625.0" x2="1304.6" y2="1048.0" stroke="#EBEBEB" stroke-width="2.0"/>
<line x1="1362.7" y1="625.0" x2="1362.7" y2="1048.0" stroke="#EBEBEB" stroke-width="2.0"/>
<line x1="1420.7" y1="625.0" x2="1420.7" y2="1048.0" stroke="#EBEBEB" stroke-width="2.0"/>
<line x1="1478.8" y1="625.0" x2="1478.8" y2="1048.0" stroke="#EBEBEB" stroke-width="2.0"/>
<line x1="1536.8" y1="625.0" x2="1536.8" y2="1048.0" stroke="#EBEBEB" stroke-width="2.0"/>
<line x1="1594.9" y1="625.0" x2="1594.9" y2="1048.0" stroke="#EBEBEB" stroke-width="2.0"/>
<line x1="1652.9" y1="625.0" x2="1652.9" y2="1048.0" stroke="#EBEBEB" stroke-width="2.0"/>
<line x1="1711.0" y1="625.0" x2="1711.0" y2="1048.0" stroke="#EBEBEB" stroke-width="2.0"/>
<line x1="887" y1="1030.5" x2="1750.8" y2="1030.5" stroke="#EBEBEB" stroke-width="2.0"/>
<line x1="887" y1="958.8" x2="1750.8" y2="958.8" stroke="#EBEBEB" stroke-width="2.0"/>
<line x1="887" y1="887.1" x2="1750.8" y2="887.1" stroke="#EBEBEB" stroke-width="2.0"/>
<line x1="887" y1="815.4" x2="1750.8" y2="815.4" stroke="#EBEBEB" stroke-width="2.0"/>
<line x1="887" y1="743.8" x2="1750.8" y2="743.8" stroke="#EBEBEB" stroke-width="2.0"/>
<line x1="887" y1="672.0" x2="1750.8" y2="672.0" stroke="#EBEBEB" stroke-width="2.0"/>
<line x1="927.3" y1="625.0" x2="927.3" y2="1048.0" stroke="#EBEBEB" stroke-width="3.4"/>
<line x1="985.3" y1="625.0" x2="985.3" y2="1048.0" stroke="#EBEBEB" stroke-width="3.4"/>
<line x1="1043.4" y1="625.0" x2="1043.4" y2="1048.0" stroke="#EBEBEB" stroke-width="3.4"/>
<line x1="1101.4" y1="625.0" x2="1101.4" y2="1048.0" stroke="#EBEBEB" stroke-width="3.4"/>
<line x1="1159.5" y1="625.0" x2="1159.5" y2="1048.0" stroke="#EBEBEB" stroke-width="3.4"/>
<line x1="1217.5" y1="625.0" x2="1217.5" y2="1048.0" stroke="#EBEBEB" stroke-width="3.4"/>
<line x1="1275.6" y1="625.0" x2="1275.6" y2="1048.0" stroke="#EBEBEB" stroke-width="3.4"/>
<line x1="1333.6" y1="625.0" x2="1333.6" y2="1048.0" stroke="#EBEBEB" stroke-width="3.4"/>
<line x1="1391.7" y1="625.0" x2="1391.7" y2="1048.0" stroke="#EBEBEB" stroke-width="3.4"/>
<line x1="1449.8" y1="625.0" x2="1449.8" y2="1048.0" stroke="#EBEBEB" stroke-width="3.4"/>
<line x1="1507.8" y1="625.0" x2="1507.8" y2="1048.0" stroke="#EBEBEB" stroke-width="3.4"/>
<line x1="1565.8" y1="625.0" x2="1565.8" y2="1048.0" stroke="#EBEBEB" stroke-width="3.4"/>
<line x1="1623.9" y1="625.0" x2="1623.9" y2="1048.0" stroke="#EBEBEB" stroke-width="3.4"/>
<line x1="1681.9" y1="625.0" x2="1681.9" y2="1048.0" stroke="#EBEBEB" stroke-width="3.4"/>
<line x1="1740.0" y1="625.0" x2="1740.0" y2="1048.0" stroke="#EBEBEB" stroke-width="3.4"/>
<line x1="887" y1="994.7" x2="1750.8" y2="994.7" stroke="#EBEBEB" stroke-width="3.4"/>
<line x1="887" y1="923.0" x2="1750.8" y2="923.0" stroke="#EBEBEB" stroke-width="3.4"/>
<line x1="887" y1="851.3" x2="1750.8" y2="851.3" stroke="#EBEBEB" stroke-width="3.4"/>
<line x1="887" y1="779.6" x2="1750.8" y2="779.6" stroke="#EBEBEB" stroke-width="3.4"/>
<line x1="887" y1="707.9" x2="1750.8" y2="707.9" stroke="#EBEBEB" stroke-width="3.4"/>
<line x1="887" y1="636.2" x2="1750.8" y2="636.2" stroke="#EBEBEB" stroke-width="3.4"/>
<path d="M947.5 829.0H955.6V853.5H947.5ZM955.6 840.3H957.5V853.5H955.6ZM957.5 774.0H965.0V853.5H957.5ZM965.0 840.3H967.2V853.5H965.0ZM967.2 788.9H974.8V853.5H967.2ZM974.8 829.0H979.7V853.5H974.8ZM1010.2 719.8H1018.1V853.5H1010.2ZM1122.3 840.9H1127.0V853.5H1122.3ZM1127.0 814.0H1131.7V853.5H1127.0ZM1131.7 731.1H1139.6V853.5H1131.7ZM1141.1 768.4H1149.0V853.5H1141.1ZM1199.1 772.5H1207.0V853.5H1199.1ZM1207.0 780.1H1212.1V853.5H1207.0ZM1252.1 838.2H1257.0V853.5H1252.1ZM1257.0 828.5H1264.8V853.5H1257.0ZM1300.8 825.2H1308.5V853.5H1300.8ZM1373.3 739.0H1381.1V853.5H1373.3ZM1383.1 824.6H1390.9V853.5H1383.1ZM1406.8 834.9H1412.3V853.5H1406.8ZM1412.3 827.1H1419.8V853.5H1412.3ZM1419.8 832.4H1424.3V853.5H1419.8ZM1424.3 844.0H1429.6V853.5H1424.3ZM1445.7 845.6H1451.6V853.5H1445.7ZM1451.6 844.0H1458.4V853.5H1451.6ZM1470.0 803.8H1474.9V853.5H1470.0ZM1474.9 736.6H1482.7V853.5H1474.9ZM1482.7 814.5H1484.2V853.5H1482.7ZM1484.2 698.1H1492.0V853.5H1484.2ZM1492.0 720.9H1496.9V853.5H1492.0ZM1496.9 736.1H1501.8V853.5H1496.9ZM1528.2 795.2H1532.7V853.5H1528.2ZM1532.7 791.3H1537.6V853.5H1532.7ZM1537.6 709.0H1542.4V853.5H1537.6ZM1542.4 696.2H1547.3V853.5H1542.4ZM1547.3 641.7H1555.1V853.5H1547.3ZM1555.1 728.9H1559.9V853.5H1555.1ZM1559.9 801.2H1564.8V853.5H1559.9ZM1569.1 840.2H1574.5V853.5H1569.1ZM1586.2 849.5H1591.1V853.5H1586.2ZM1591.1 749.1H1595.9V853.5H1591.1ZM1595.9 705.9H1603.1V853.5H1595.9ZM1603.1 732.7H1605.5V853.5H1603.1ZM1605.5 709.2H1612.9V853.5H1605.5ZM1615.4 842.1H1623.0V853.5H1615.4ZM1648.9 790.0H1653.7V853.5H1648.9ZM1653.7 723.4H1661.5V853.5H1653.7ZM1661.5 741.5H1666.4V853.5H1661.5ZM1666.4 754.5H1671.2V853.5H1666.4ZM1671.2 804.2H1676.1V853.5H1671.2ZM1678.0 849.5H1685.8V853.5H1678.0ZM1702.0 809.0H1706.8V853.5H1702.0ZM1706.8 759.4H1714.6V853.5H1706.8ZM923.5 849.8H931.5V944.5H923.5ZM931.5 849.8H936.4V938.5H931.5ZM938.2 849.8H946.1V1012.3H938.2ZM946.1 849.8H950.9V905.0H946.1ZM976.9 849.8H984.8V871.1H976.9ZM991.0 849.8H998.9V996.9H991.0ZM1044.7 849.8H1052.2V900.3H1044.7ZM1054.1 849.8H1061.6V952.5H1054.1ZM1061.6 849.8H1066.3V905.9H1061.6ZM1078.4 849.8H1086.1V887.1H1078.4ZM1088.0 849.8H1095.9V853.8H1088.0ZM1107.2 849.8H1112.3V976.6H1107.2ZM1112.3 849.8H1119.8V986.5H1112.3ZM1146.2 849.8H1153.7V889.3H1146.2ZM1153.7 849.8H1158.6V862.6H1153.7ZM1165.2 849.8H1170.3V915.7H1165.2ZM1170.3 849.8H1177.8V956.2H1170.3ZM1213.6 849.8H1222.1V946.8H1213.6ZM1222.1 849.8H1230.9V945.9H1222.1ZM1230.9 849.8H1232.8V898.4H1230.9ZM1232.8 849.8H1240.7V942.7H1232.8ZM1240.7 849.8H1242.6V896.5H1240.7ZM1242.6 849.8H1250.1V934.6H1242.6ZM1261.8 849.8H1266.7V890.9H1261.8ZM1266.7 849.8H1271.8V904.0H1266.7ZM1271.8 849.8H1279.9V1027.8H1271.8ZM1279.9 849.8H1281.2V942.7H1279.9ZM1281.2 849.8H1289.1V1031.6H1281.2ZM1289.1 849.8H1291.0V896.5H1289.1ZM1291.0 849.8H1298.7V920.0H1291.0ZM1298.7 849.8H1303.8V885.8H1298.7ZM1315.1 849.8H1323.0V872.4H1315.1ZM1329.6 849.8H1337.7V959.0H1329.6ZM1337.7 849.8H1342.4V906.9H1337.7ZM1349.0 849.8H1358.4V899.9H1349.0ZM1358.4 849.8H1366.4V931.9H1358.4ZM1388.0 849.8H1395.6V949.6H1388.0ZM1397.1 849.8H1405.0V951.5H1397.1ZM1436.0 849.8H1443.8V864.1H1436.0ZM1455.1 849.8H1460.2V865.8H1455.1ZM1460.2 849.8H1467.7V986.9H1460.2ZM1467.7 849.8H1472.8V903.7H1467.7ZM1561.8 849.8H1566.6V884.1H1561.8ZM1571.1 849.8H1576.4V884.4H1571.1ZM1576.4 849.8H1584.1V914.3H1576.4ZM1584.1 849.8H1588.9V862.6H1584.1ZM1610.2 849.8H1618.2V878.6H1610.2ZM1620.0 849.8H1628.0V934.2H1620.0ZM1628.0 849.8H1634.2V909.3H1628.0ZM1634.2 849.8H1642.2V957.6H1634.2ZM1642.2 849.8H1647.1V887.1H1642.2ZM1673.3 849.8H1680.9V880.5H1673.3ZM1683.0 849.8H1687.5V858.7H1683.0ZM1687.5 849.8H1692.3V924.9H1687.5ZM1692.3 849.8H1699.9V969.7H1692.3ZM1699.9 849.8H1704.9V920.0H1699.9Z" fill="#000"/>
<rect x="1450.2" y="628.7" width="116.70000000000005" height="415.79999999999995" fill="none" stroke="#FF0000" stroke-width="3.4"/>
<rect x="887" y="625.0" width="863.8" height="423.0" fill="none" stroke="#333333" stroke-width="2.2"/>
<line x1="876.5" y1="994.7" x2="887" y2="994.7" stroke="#333333" stroke-width="3.2"/>
<text x="868" y="1006.9" text-anchor="end" font-size="34.5" fill="#4D4D4D">-2</text>
<line x1="876.5" y1="923.0" x2="887" y2="923.0" stroke="#333333" stroke-width="3.2"/>
<text x="868" y="935.2" text-anchor="end" font-size="34.5" fill="#4D4D4D">-1</text>
<line x1="876.5" y1="851.3" x2="887" y2="851.3" stroke="#333333" stroke-width="3.2"/>
<text x="868" y="863.5" text-anchor="end" font-size="34.5" fill="#4D4D4D">0</text>
<line x1="876.5" y1="779.6" x2="887" y2="779.6" stroke="#333333" stroke-width="3.2"/>
<text x="868" y="791.8" text-anchor="end" font-size="34.5" fill="#4D4D4D">1</text>
<line x1="876.5" y1="707.9" x2="887" y2="707.9" stroke="#333333" stroke-width="3.2"/>
<text x="868" y="720.1" text-anchor="end" font-size="34.5" fill="#4D4D4D">2</text>
<line x1="876.5" y1="636.2" x2="887" y2="636.2" stroke="#333333" stroke-width="3.2"/>
<text x="868" y="648.4" text-anchor="end" font-size="34.5" fill="#4D4D4D">3</text>
<line x1="927.3" y1="1048.0" x2="927.3" y2="1058.5" stroke="#333333" stroke-width="3.2"/>
<text transform="translate(937.1,1067.3) rotate(-90) scale(0.96,1)" text-anchor="end" font-size="35.4" fill="#4D4D4D">2005</text>
<line x1="985.3" y1="1048.0" x2="985.3" y2="1058.5" stroke="#333333" stroke-width="3.2"/>
<text transform="translate(995.1,1067.3) rotate(-90) scale(0.96,1)" text-anchor="end" font-size="35.4" fill="#4D4D4D">2006</text>
<line x1="1043.4" y1="1048.0" x2="1043.4" y2="1058.5" stroke="#333333" stroke-width="3.2"/>
<text transform="translate(1053.2,1067.3) rotate(-90) scale(0.96,1)" text-anchor="end" font-size="35.4" fill="#4D4D4D">2007</text>
<line x1="1101.4" y1="1048.0" x2="1101.4" y2="1058.5" stroke="#333333" stroke-width="3.2"/>
<text transform="translate(1111.2,1067.3) rotate(-90) scale(0.96,1)" text-anchor="end" font-size="35.4" fill="#4D4D4D">2008</text>
<line x1="1159.5" y1="1048.0" x2="1159.5" y2="1058.5" stroke="#333333" stroke-width="3.2"/>
<text transform="translate(1169.3,1067.3) rotate(-90) scale(0.96,1)" text-anchor="end" font-size="35.4" fill="#4D4D4D">2009</text>
<line x1="1217.5" y1="1048.0" x2="1217.5" y2="1058.5" stroke="#333333" stroke-width="3.2"/>
<text transform="translate(1227.3,1067.3) rotate(-90) scale(0.96,1)" text-anchor="end" font-size="35.4" fill="#4D4D4D">2010</text>
<line x1="1275.6" y1="1048.0" x2="1275.6" y2="1058.5" stroke="#333333" stroke-width="3.2"/>
<text transform="translate(1285.4,1067.3) rotate(-90) scale(0.96,1)" text-anchor="end" font-size="35.4" fill="#4D4D4D">2011</text>
<line x1="1333.6" y1="1048.0" x2="1333.6" y2="1058.5" stroke="#333333" stroke-width="3.2"/>
<text transform="translate(1343.4,1067.3) rotate(-90) scale(0.96,1)" text-anchor="end" font-size="35.4" fill="#4D4D4D">2012</text>
<line x1="1391.7" y1="1048.0" x2="1391.7" y2="1058.5" stroke="#333333" stroke-width="3.2"/>
<text transform="translate(1401.5,1067.3) rotate(-90) scale(0.96,1)" text-anchor="end" font-size="35.4" fill="#4D4D4D">2013</text>
<line x1="1449.8" y1="1048.0" x2="1449.8" y2="1058.5" stroke="#333333" stroke-width="3.2"/>
<text transform="translate(1459.5,1067.3) rotate(-90) scale(0.96,1)" text-anchor="end" font-size="35.4" fill="#4D4D4D">2014</text>
<line x1="1507.8" y1="1048.0" x2="1507.8" y2="1058.5" stroke="#333333" stroke-width="3.2"/>
<text transform="translate(1517.6,1067.3) rotate(-90) scale(0.96,1)" text-anchor="end" font-size="35.4" fill="#4D4D4D">2015</text>
<line x1="1565.8" y1="1048.0" x2="1565.8" y2="1058.5" stroke="#333333" stroke-width="3.2"/>
<text transform="translate(1575.6,1067.3) rotate(-90) scale(0.96,1)" text-anchor="end" font-size="35.4" fill="#4D4D4D">2016</text>
<line x1="1623.9" y1="1048.0" x2="1623.9" y2="1058.5" stroke="#333333" stroke-width="3.2"/>
<text transform="translate(1633.7,1067.3) rotate(-90) scale(0.96,1)" text-anchor="end" font-size="35.4" fill="#4D4D4D">2017</text>
<line x1="1681.9" y1="1048.0" x2="1681.9" y2="1058.5" stroke="#333333" stroke-width="3.2"/>
<text transform="translate(1691.7,1067.3) rotate(-90) scale(0.96,1)" text-anchor="end" font-size="35.4" fill="#4D4D4D">2018</text>
<line x1="1740.0" y1="1048.0" x2="1740.0" y2="1058.5" stroke="#333333" stroke-width="3.2"/>
<text transform="translate(1749.8,1067.3) rotate(-90) scale(0.96,1)" text-anchor="end" font-size="35.4" fill="#4D4D4D">2019</text>
<text transform="translate(833.5,839.5) rotate(-90) scale(0.865,1)" text-anchor="middle" font-size="44.6">CCA1</text>
<text x="884" y="615.6" class="b" font-size="31.6">Particle-associated or large celled prokaryotes (1-80 µm)</text>
</svg></body></html>
